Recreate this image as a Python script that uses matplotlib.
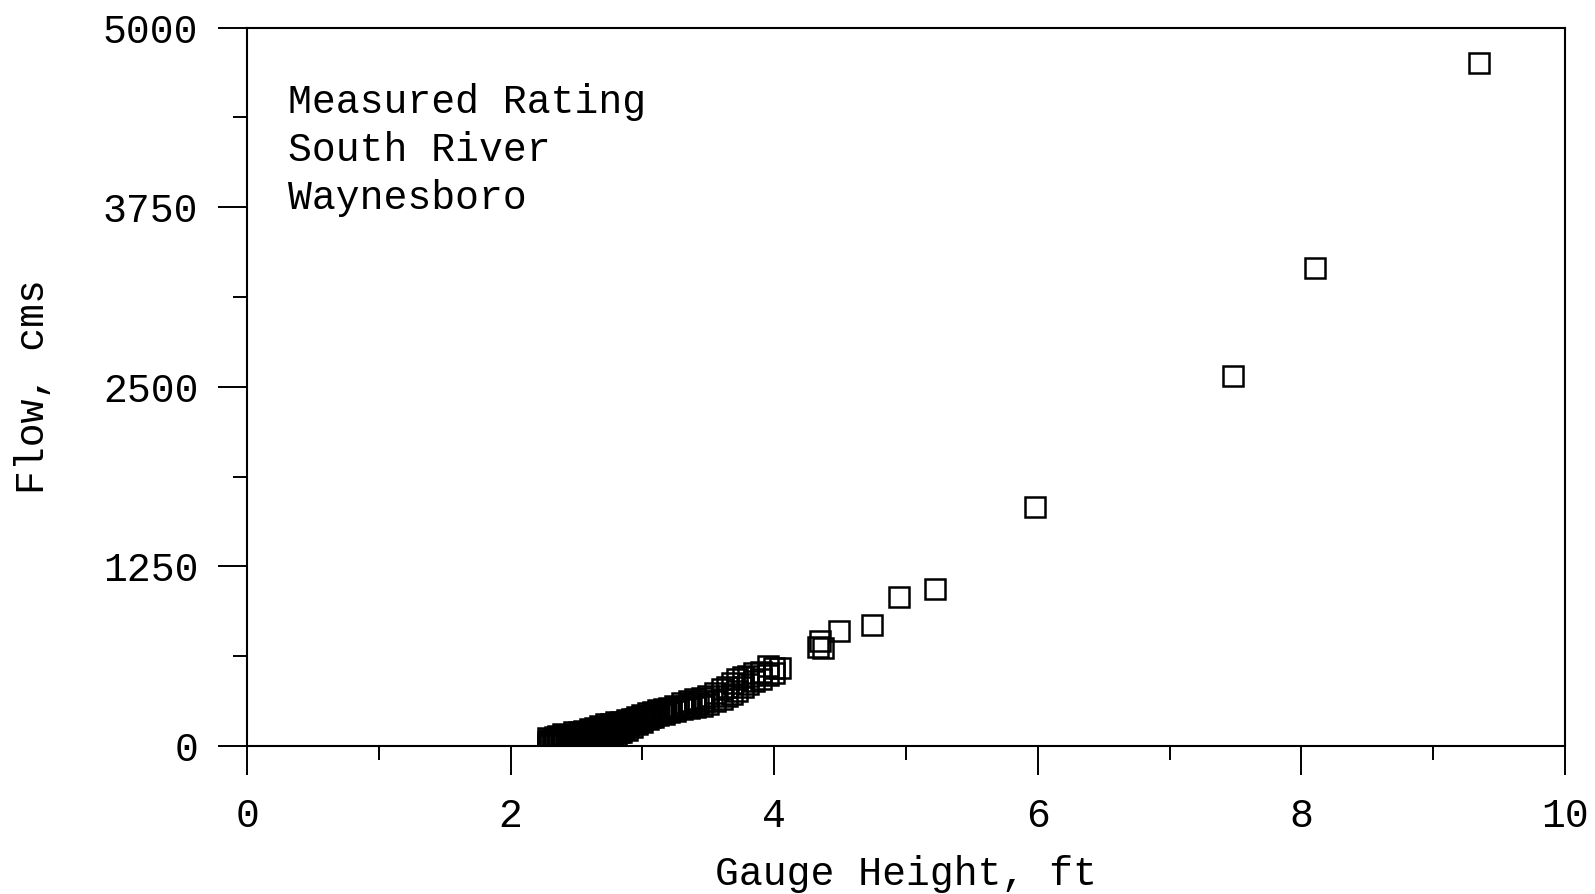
import matplotlib
matplotlib.use('Agg')
import matplotlib.pyplot as plt
from matplotlib.ticker import MultipleLocator

# gauge height (ft) and measured flow (cms)
gauge = [2.28, 2.28, 2.28, 2.32, 2.32, 2.36, 2.36, 2.36, 2.40, 2.40,
         2.40, 2.44, 2.44, 2.44, 2.48, 2.48, 2.48, 2.52, 2.52, 2.52,
         2.56, 2.56, 2.56, 2.60, 2.60, 2.60, 2.60, 2.64, 2.64, 2.64,
         2.64, 2.68, 2.68, 2.68, 2.68, 2.72, 2.72, 2.72, 2.72, 2.76,
         2.76, 2.76, 2.76, 2.80, 2.80, 2.80, 2.84, 2.84, 2.84, 2.88,
         2.88, 2.88, 2.92, 2.92, 2.92, 2.96, 2.96, 2.96, 3.00, 3.00,
         3.00, 3.04, 3.04, 3.08, 3.08, 3.12, 3.12, 3.16, 3.16, 3.20,
         3.20, 3.25, 3.25, 3.30, 3.30, 3.35, 3.35, 3.40, 3.40, 3.45,
         3.45, 3.50, 3.50, 3.55, 3.55, 3.60, 3.60, 3.64, 3.64, 3.68,
         3.68, 3.72, 3.72, 3.76, 3.76, 3.80, 3.80, 3.85, 3.85, 3.90,
         3.90, 3.95, 3.95, 4.00, 4.00, 4.04, 4.33, 4.35, 4.37, 4.49,
         4.74, 4.95, 5.22, 5.98, 7.48, 8.10, 9.35,
         2.30, 2.30, 2.34, 2.34, 2.38, 2.38, 2.42, 2.42, 2.46, 2.46,
         2.50, 2.50, 2.54, 2.54, 2.58, 2.58, 2.62, 2.62, 2.66, 2.66,
         2.70, 2.70, 2.74, 2.74, 2.78, 2.78, 2.82, 2.82, 2.86, 2.86,
         2.90, 2.90, 2.94, 2.94, 2.98, 3.02, 3.06, 3.10, 3.14, 3.18,
         3.22, 3.27, 3.32, 3.37, 3.42, 3.47]
flow = [5, 30, 56, 15, 45, 10, 40, 70, 25, 60,
        85, 5, 45, 80, 20, 60, 95, 10, 50, 100,
        30, 75, 105, 15, 55, 95, 120, 5, 40, 85,
        125, 30, 70, 110, 140, 20, 60, 100, 150, 45,
        90, 130, 155, 75, 115, 165, 95, 140, 170, 110,
        150, 180, 135, 175, 190, 150, 185, 200, 165, 200,
        215, 185, 230, 200, 240, 215, 250, 225, 255, 235,
        265, 245, 280, 255, 300, 265, 310, 270, 325, 280,
        335, 290, 345, 310, 370, 330, 400, 345, 410, 365,
        440, 385, 470, 410, 480, 430, 490, 455, 505, 470,
        515, 495, 560, 510, 545, 540, 690, 730, 680, 800,
        845, 1035, 1095, 1660, 2575, 3325, 4750,
        20, 45, 30, 60, 20, 55, 40, 70, 30, 65,
        35, 80, 25, 70, 50, 90, 35, 105, 60, 115,
        45, 125, 80, 130, 65, 145, 100, 150, 120, 160,
        145, 170, 160, 185, 180, 210, 205, 225, 235, 245,
        255, 265, 280, 290, 300, 310]

note = ["Measured Rating", "South River", "Waynesboro"]

plt.rcParams['font.family'] = ['Liberation Mono', 'DejaVu Sans']
fs = 28.6

fig = plt.figure(figsize=(15.95, 8.94), dpi=100)
ax = fig.add_axes([0.1549, 0.1655, 0.9812 - 0.1549, 0.9692 - 0.1655])

# hollow squares, so overlapping points pile up into a dark band
ax.plot(gauge, flow, linestyle='none', marker='s', markersize=14,
        markerfacecolor='none', markeredgecolor='black', markeredgewidth=1.8)

ax.set_xlim(0, 10)
ax.set_ylim(0, 5000)
ax.xaxis.set_major_locator(MultipleLocator(2))
ax.xaxis.set_minor_locator(MultipleLocator(1))
ax.yaxis.set_major_locator(MultipleLocator(1250))
ax.yaxis.set_minor_locator(MultipleLocator(625))
ax.tick_params(which='major', direction='out', length=21, width=1.4,
               labelsize=fs, pad=14)
ax.tick_params(which='minor', direction='out', length=10, width=1.4)
ax.tick_params(axis='x', which='major', pad=16)

for s in ax.spines.values():
    s.set_linewidth(1.5)

ax.set_xlabel("Gauge Height, ft", fontsize=fs, labelpad=14)
ax.set_ylabel("Flow, cms", fontsize=fs, labelpad=37)

for i, line in enumerate(note):
    ax.text(0.031, 0.896 - i * 0.0665, line, transform=ax.transAxes,
            fontsize=fs, va='center', ha='left')

plt.savefig("out.png", dpi=100)
